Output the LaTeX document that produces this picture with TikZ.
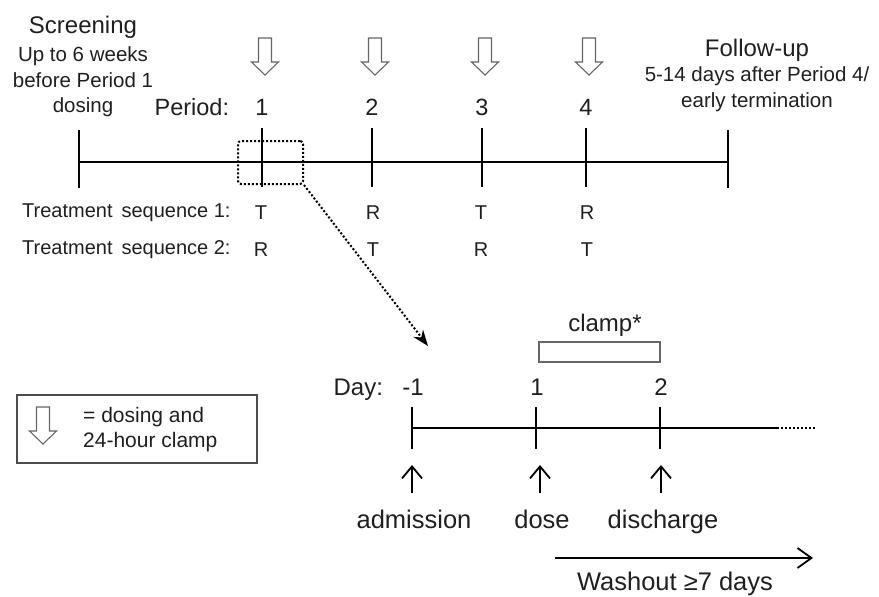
\documentclass[tikz,border=0pt]{standalone}
\usepackage{fontspec}
\setmainfont{Liberation Sans}
\usetikzlibrary{arrows.meta,positioning}

\begin{document}
\begin{tikzpicture}[x=1pt,y=-1pt,
  every node/.style={text=black!88,inner sep=0pt},
  big/.style={font=\fontsize{24}{28}\selectfont},
  small/.style={font=\fontsize{20.5}{25.5}\selectfont,align=center},
  seq/.style={font=\fontsize{20}{24}\selectfont},
  num/.style={font=\fontsize{23.5}{27}\selectfont},
  lbl/.style={font=\fontsize{25.5}{30}\selectfont},
  tick/.style={line width=2.2pt},
  dots/.style={dotted,line width=2pt},
  upar/.style={line width=1.8pt,-{Straight Barb[length=12pt,width=20pt]}},
  dosearrow/.pic={
    \draw[line width=1.1pt,draw=black!60,fill=white] (-6.5,0) -- (6.5,0) -- (6.5,24)
      -- (13.5,24) -- (0,37) -- (-13.5,24) -- (-6.5,24) -- cycle;}]
\useasboundingbox (0,0) rectangle (879,597);

\node[big] (scr) at (83,27) {Screening};
\node[small] (scrtxt) at (83,82) {Up to 6 weeks\\before Period 1\\dosing};
\node[big] (fu) at (757,50) {Follow-up};
\node[small] (futxt) at (757,89) {5-14 days after Period 4/\\early termination};

\coordinate (s0) at (79,162);
\coordinate (s5) at (728,162);
\draw[tick] (s0) -- (s5);
\draw[tick] (79,130) -- (79,188);
\draw[tick] (728,130) -- (728,188);
\foreach \x/\n in {262/1,372/2,482/3,586/4}{
  \coordinate (p\n) at (\x,162);
  \draw[tick] (\x,128) -- (\x,187);
  \pic at (\x+3,38) {dosearrow};
  \node[num] (num\n) at (\x,107) {\n};
}
\node[num,anchor=base east] (per) at ([xshift=-26pt]num1.base west) {Period:};

\node[seq,anchor=west] (seq1) at (22,213) {Treatment\hspace{9pt}sequence 1:};
\node[seq,anchor=west] (seq2) at (22,250) {Treatment\hspace{9pt}sequence 2:};
\foreach \x/\a/\b [count=\i] in {261/T/R,373/R/T,481/T/R,587/R/T}{
  \node[seq] (ta\i) at (\x,213) {\a};
  \node[seq] (tb\i) at (\x,250) {\b};
}

\node[draw,dots,rounded corners=3pt,
  minimum width=65pt,minimum height=43pt] (zoom) at (270.5,162.5) {};
\coordinate (dayin) at (428,346);
\draw[dots,-{Stealth[length=16pt,width=12pt]}] (zoom.south east) -- (dayin);

\coordinate (d0) at (412,428);
\coordinate (dend) at (777,428);
\coordinate (ddot) at (815,428);
\draw[tick] (d0) -- (dend);
\draw[dots] (dend) -- (ddot);
\foreach \x/\n/\m in {412/-1/m1,536/1/p1,660/2/p2}{
  \draw[tick] (\x,407) -- (\x,449);
  \node[big] (day\m) at (\x+1,387) {\n};
}
\node[big,anchor=base east] (day) at ([xshift=-19pt]daym1.base west) {Day:};

\node[draw=black!60,line width=1.3pt,minimum width=121pt,minimum height=20pt] (clampbox) at (599.5,352) {};
\node[big] (clamp) at (605,325) {clamp*};

\foreach \x/\t in {412/admission,540/dose,661/discharge}{
  \coordinate (up\t) at (\x,493);
  \coordinate (tip\t) at (\x,465);
  \draw[upar] (up\t) -- (tip\t);
  \node[lbl,anchor=base] (\t) at (\x+2,528) {\t};
}

\coordinate (w0) at (555,558);
\coordinate (w1) at (813,558);
\draw[line width=1.8pt,-{Straight Barb[length=14pt,width=20pt]}] (w0) -- (w1);
\node[lbl,anchor=base] (wash) at (675,590) {Washout ≥7 days};

\node[draw=black!70,line width=1.1pt,minimum width=240pt,minimum height=68pt] (legend) at (137,429) {};
\pic at (43,407) {dosearrow};
\node[font=\fontsize{21}{25}\selectfont,align=left,anchor=west] (legtxt) at (83,430) {= dosing and\\24-hour clamp};
\end{tikzpicture}
\end{document}
